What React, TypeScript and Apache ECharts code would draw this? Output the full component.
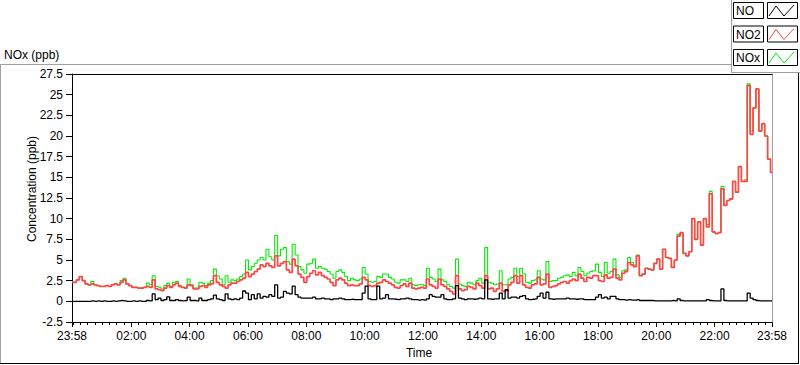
import React, { useEffect, useRef } from "react";
import * as echarts from "echarts";

// Time axis: minutes relative to midnight; samples every 6 min starting 23:58 (previous day)
const START_MIN = -2;
const STEP_MIN = 6;
const END_MIN = 1438;

const MAJOR_TICKS = [-2, 120, 240, 360, 480, 600, 720, 840, 960, 1080, 1200, 1320, 1438];

const Y_MIN = -2.5;
const Y_MAX = 27.5;
const Y_STEP = 2.5;

// NO2 (ppb)
const NO2 = [
  2.3, 2.3, 2.6, 3.0, 2.5, 2.1, 2.0, 2.1, 2.0, 1.9,
  1.8, 1.8, 1.9, 1.8, 2.0, 2.1, 2.0, 2.3, 2.6, 2.1,
  1.9, 1.7, 1.7, 1.6, 1.6, 1.7, 1.8, 1.7, 2.6, 1.5,
  1.4, 1.3, 1.6, 1.9, 1.7, 2.0, 2.2, 1.8, 1.7, 1.6,
  2.0, 1.9, 1.5, 1.5, 1.8, 1.9, 1.7, 2.0, 2.1, 3.1,
  2.3, 2.0, 1.8, 1.6, 2.0, 2.2, 2.2, 2.4, 2.6, 2.8,
  3.5, 3.0, 3.3, 3.6, 3.9, 4.4, 4.2, 4.6, 4.3, 4.1,
  5.5, 4.3, 4.6, 4.8, 3.8, 3.5, 5.1, 4.3, 3.3, 2.9,
  2.3, 3.0, 3.4, 3.7, 3.2, 3.5, 3.1, 2.9, 2.7, 2.3,
  1.9, 2.6, 2.8, 2.6, 2.2, 1.9, 2.0, 1.9, 1.9, 2.1,
  2.9, 2.6, 1.9, 1.8, 1.9, 2.2, 2.3, 2.6, 2.4, 2.2,
  2.0, 1.7, 1.6, 1.9, 2.1, 1.8, 2.2, 1.6, 1.5, 1.6,
  1.7, 1.6, 2.7, 2.0, 1.8, 1.6, 2.7, 2.0, 1.8, 1.5,
  1.2, 0.9, 3.1, 1.5, 1.3, 1.4, 1.8, 1.7, 1.5, 2.2,
  1.9, 1.6, 3.1, 1.5, 1.6, 1.2, 1.5, 2.2, 1.2, 1.3,
  2.0, 2.3, 3.1, 2.2, 3.1, 2.0, 1.7, 1.6, 2.0, 2.1,
  2.9, 2.0, 2.1, 3.3, 1.7, 1.8, 1.9, 2.1, 2.3, 2.4,
  2.2, 2.5, 2.7, 2.5, 3.3, 2.8, 2.4, 2.9, 2.8, 3.1,
  3.1, 2.5, 2.4, 3.2, 2.8, 2.9, 3.9, 2.8, 2.6, 3.4,
  3.6, 4.7, 4.4, 4.2, 5.5, 3.1, 3.3, 4.0, 3.9, 3.8,
  4.6, 5.1, 3.9, 6.3, 5.3, 5.2, 4.1, 5.0, 7.9, 8.3,
  5.8, 5.5, 6.0, 10.0, 7.5, 9.6, 6.8, 10.0, 9.0, 13.0,
  8.4, 8.2, 8.3, 13.6, 11.6, 12.2, 12.4, 14.5, 13.2, 16.3,
  14.5, 14.5, 26.1, 20.2, 23.4, 25.7, 20.6, 21.5, 20.0, 17.2,
  15.6,
];

// NOx (ppb)
const NOX = [
  2.3, 2.3, 2.6, 3.0, 2.5, 2.1, 2.0, 2.4, 2.0, 1.9,
  1.8, 1.8, 1.9, 1.8, 2.0, 2.1, 2.0, 2.5, 2.8, 2.1,
  1.9, 1.7, 1.7, 1.6, 1.6, 1.7, 2.2, 2.0, 3.1, 1.8,
  1.7, 1.5, 1.9, 2.2, 1.8, 2.3, 2.4, 1.9, 1.7, 1.7,
  2.7, 2.0, 1.6, 1.6, 2.3, 2.2, 1.9, 2.2, 2.5, 3.9,
  3.1, 2.7, 2.0, 3.1, 2.3, 2.6, 2.5, 2.7, 3.0, 3.3,
  5.0, 3.8, 4.2, 4.6, 5.0, 5.3, 5.0, 6.3, 5.4, 5.0,
  8.0, 5.5, 6.3, 6.5, 4.8, 4.5, 6.9, 5.6, 4.2, 3.8,
  3.4, 4.5, 4.6, 5.1, 4.0, 4.2, 4.0, 3.9, 3.6, 3.3,
  2.8, 3.6, 3.8, 3.5, 3.0, 2.5, 2.8, 2.6, 2.5, 2.7,
  4.1, 3.3, 2.4, 2.3, 2.4, 3.0, 2.9, 3.3, 3.3, 2.9,
  2.7, 2.3, 2.2, 2.6, 2.6, 2.4, 2.8, 2.0, 1.9, 2.0,
  2.0, 1.9, 4.0, 2.9, 2.7, 2.4, 3.9, 2.6, 2.4, 2.0,
  1.8, 1.6, 5.1, 2.1, 1.9, 1.8, 2.3, 2.2, 2.0, 2.5,
  2.8, 2.2, 6.5, 2.3, 2.2, 2.0, 2.1, 3.7, 2.0, 2.0,
  2.7, 2.9, 4.0, 3.0, 4.0, 3.3, 2.3, 2.2, 2.5, 2.6,
  3.7, 2.7, 2.6, 4.8, 2.4, 2.5, 2.5, 2.8, 2.9, 3.1,
  3.2, 3.0, 3.5, 3.1, 4.1, 3.6, 3.1, 3.4, 3.6, 3.7,
  4.5, 3.5, 3.0, 4.7, 3.4, 3.6, 5.1, 3.2, 2.9, 3.7,
  3.8, 5.3, 4.7, 4.4, 5.6, 3.1, 3.3, 4.0, 3.9, 3.8,
  4.6, 5.1, 3.9, 6.3, 5.3, 5.2, 4.1, 5.0, 8.1, 8.3,
  5.8, 5.5, 6.0, 10.0, 7.5, 9.6, 6.8, 10.0, 9.3, 13.3,
  8.4, 8.2, 8.3, 13.9, 11.6, 12.2, 12.4, 14.5, 13.2, 16.3,
  14.5, 14.7, 26.3, 20.6, 23.4, 25.7, 20.6, 21.5, 20.0, 17.2,
  15.6,
];

// NO (ppb)
const NO = [
  0.0, 0.0, 0.0, 0.0, 0.0, 0.0, 0.0, 0.05, 0.0, 0.05,
  0.0, 0.05, 0.0, 0.0, 0.05, 0.0, 0.05, 0.1, 0.05, 0.0,
  0.0, 0.05, 0.0, 0.05, 0.0, 0.0, 0.1, 0.05, 0.9, 0.2,
  0.4, 0.1, 0.2, 0.55, 0.1, 0.1, 0.2, 0.1, 0.05, 0.1,
  0.5, 0.1, 0.1, 0.05, 0.4, 0.1, 0.1, 0.2, 0.3, 0.75,
  0.3, 0.2, 0.1, 0.9, 0.3, 0.2, 0.3, 0.2, 0.4, 1.25,
  1.0, 0.2, 0.8, 0.3, 0.9, 0.4, 0.6, 0.5, 0.8, 0.6,
  2.0, 0.4, 0.5, 1.2, 1.0, 0.9, 1.85, 0.8, 0.5, 0.4,
  0.4, 0.4, 0.4, 0.5, 0.3, 0.3, 0.4, 0.3, 0.3, 0.2,
  0.3, 0.3, 0.4, 0.3, 0.2, 0.2, 0.25, 0.2, 0.2, 0.2,
  1.0, 1.85, 0.3, 0.2, 0.2, 1.85, 0.3, 0.4, 0.8, 0.3,
  0.3, 0.25, 0.2, 0.3, 0.3, 0.4, 0.3, 0.2, 0.2, 0.15,
  0.2, 0.15, 0.3, 0.8, 0.6, 0.5, 0.5, 0.8, 0.3, 0.2,
  0.2, 0.3, 1.9, 0.4, 0.3, 0.2, 0.3, 0.3, 0.25, 0.3,
  0.4, 0.3, 2.6, 0.3, 0.25, 0.3, 0.3, 1.0, 0.3, 1.4,
  0.4, 0.5, 0.5, 0.4, 0.6, 0.7, 0.3, 0.2, 0.25, 0.3,
  0.6, 1.0, 0.4, 1.1, 0.3, 0.25, 0.3, 0.3, 0.3, 0.3,
  0.4, 0.3, 0.3, 0.25, 0.3, 0.3, 0.2, 0.2, 0.2, 0.2,
  0.5, 0.8, 0.4, 0.5, 0.3, 0.6, 0.6, 0.3, 0.2, 0.2,
  0.15, 0.2, 0.15, 0.15, 0.2, 0.1, 0.1, 0.1, 0.1, 0.1,
  0.05, 0.05, 0.05, 0.05, 0.05, 0.05, 0.1, 0.05, 0.3, 0.1,
  0.05, 0.05, 0.05, 0.05, 0.05, 0.05, 0.05, 0.05, 0.2, 0.1,
  0.05, 0.05, 0.05, 1.5, 0.1, 0.05, 0.05, 0.05, 0.05, 0.05,
  0.05, 0.05, 1.0, 0.4, 0.2, 0.1, 0.05, 0.05, 0.05, 0.05,
  0.05,
];

const LEGEND_NAMES = ["NO", "NO2", "NOx"];
const COLORS: Record<string, string> = { NO: "#000000", NO2: "#ff4646", NOx: "#00ee00" };

const FONT = "'Liberation Sans', Arial, sans-serif";

function pad(n: number) {
  return n < 10 ? "0" + n : String(n);
}
function fmtTime(v: number) {
  if (v <= START_MIN || v >= END_MIN) return "23:58";
  const h = Math.floor(v / 60);
  const m = Math.round(v - h * 60);
  return pad(h) + ":" + pad(m);
}

function toPairs(arr: number[]) {
  return arr.map((v, i) => [START_MIN + STEP_MIN * i, v]);
}

export default function App() {
  const ref = useRef<HTMLDivElement>(null);

  useEffect(() => {
    if (!ref.current) return;
    const chart = echarts.init(ref.current, undefined, { renderer: "svg" });

    const minorTicks: number[] = [];
    for (let m = 0; m < END_MIN; m += 15) {
      if (m % 120 !== 0 || m === 0) minorTicks.push(m);
    }

    const legendGraphics: any[] = [];
    LEGEND_NAMES.forEach((name, k) => {
      const y0 = 2 + k * 23.5;
      legendGraphics.push(
        {
          type: "rect",
          shape: { x: 733.5, y: y0 + 0.5, width: 30, height: 16 },
          style: { fill: "#ffffff", stroke: "#000000", lineWidth: 1 },
          silent: true,
        },
        {
          type: "text",
          x: 736,
          y: y0 + 9,
          style: {
            text: name,
            fill: "#000000",
            fontSize: 12,
            fontFamily: FONT,
            verticalAlign: "middle",
            align: "left",
          },
          silent: true,
        },
        {
          type: "rect",
          shape: { x: 767.5, y: y0 + 0.5, width: 30, height: 16 },
          style: { fill: "#ffffff", stroke: "#000000", lineWidth: 1 },
          silent: true,
        },
        {
          type: "polyline",
          shape: {
            points: [
              [769, y0 + 14],
              [776, y0 + 4],
              [784, y0 + 14],
              [794, y0 + 3],
            ],
          },
          style: { stroke: COLORS[name], lineWidth: 1, fill: "none" },
          silent: true,
        }
      );
    });

    const option: any = {
      animation: false,
      backgroundColor: "#ffffff",
      grid: { left: 72, right: 28, top: 74, bottom: 43, containLabel: false },
      xAxis: [
        {
          type: "value",
          min: START_MIN,
          max: END_MIN,
          position: "bottom",
          axisLine: { show: true, onZero: false, lineStyle: { color: "#000000", width: 1 } },
          axisTick: { show: true, customValues: MAJOR_TICKS, length: 5, lineStyle: { color: "#000000" } },
          axisLabel: {
            customValues: MAJOR_TICKS,
            formatter: (v: number) => fmtTime(v),
            margin: 8,
            color: "#000000",
            fontSize: 12,
            fontFamily: FONT,
            showMinLabel: true,
            showMaxLabel: true,
          },
          splitLine: { show: false },
        },
        {
          type: "value",
          min: START_MIN,
          max: END_MIN,
          position: "bottom",
          axisLine: { show: false, onZero: false },
          axisTick: { show: true, customValues: minorTicks, length: 3, lineStyle: { color: "#000000" } },
          axisLabel: { show: false },
          splitLine: { show: false },
        },
        {
          type: "value",
          min: START_MIN,
          max: END_MIN,
          position: "top",
          axisLine: { show: true, onZero: false, lineStyle: { color: "#000000", width: 1 } },
          axisTick: { show: false },
          axisLabel: { show: false },
          splitLine: { show: false },
        },
      ],
      yAxis: [
        {
          type: "value",
          min: Y_MIN,
          max: Y_MAX,
          interval: Y_STEP,
          position: "left",
          axisLine: { show: true, onZero: false, lineStyle: { color: "#000000", width: 1 } },
          axisTick: { show: true, length: 6, lineStyle: { color: "#000000" } },
          axisLabel: { margin: 9, color: "#000000", fontSize: 12, fontFamily: FONT },
          splitLine: { show: false },
        },
        {
          type: "value",
          min: Y_MIN,
          max: Y_MAX,
          interval: Y_STEP,
          position: "right",
          axisLine: { show: true, onZero: false, lineStyle: { color: "#a0a0a0", width: 1 } },
          axisTick: { show: false },
          axisLabel: { show: false },
          splitLine: { show: false },
        },
      ],
      series: [
        {
          name: "NOx",
          type: "line",
          data: toPairs(NOX),
          step: "middle",
          showSymbol: false,
          lineStyle: { color: COLORS.NOx, width: 1.1 },
          itemStyle: { color: COLORS.NOx },
          silent: true,
        },
        {
          name: "NO2",
          type: "line",
          data: toPairs(NO2),
          step: "middle",
          showSymbol: false,
          lineStyle: { color: COLORS.NO2, width: 1.7 },
          itemStyle: { color: COLORS.NO2 },
          silent: true,
        },
        {
          name: "NO",
          type: "line",
          data: toPairs(NO),
          step: "middle",
          showSymbol: false,
          lineStyle: { color: COLORS.NO, width: 1.3 },
          itemStyle: { color: COLORS.NO },
          silent: true,
        },
      ],
      graphic: [
        { type: "line", shape: { x1: 0, y1: 64.5, x2: 731, y2: 64.5 }, style: { stroke: "#a0a0a0", lineWidth: 1 }, silent: true },
        { type: "line", shape: { x1: 0.5, y1: 64, x2: 0.5, y2: 364 }, style: { stroke: "#a0a0a0", lineWidth: 1 }, silent: true },
        { type: "line", shape: { x1: 0, y1: 363.5, x2: 799, y2: 363.5 }, style: { stroke: "#000000", lineWidth: 1 }, silent: true },
        { type: "line", shape: { x1: 798.5, y1: 72, x2: 798.5, y2: 364 }, style: { stroke: "#000000", lineWidth: 1 }, silent: true },
        { type: "line", shape: { x1: 731.5, y1: 0, x2: 731.5, y2: 73 }, style: { stroke: "#a0a0a0", lineWidth: 1 }, silent: true },
        { type: "line", shape: { x1: 731, y1: 72.5, x2: 800, y2: 72.5 }, style: { stroke: "#a0a0a0", lineWidth: 1 }, silent: true },
        {
          type: "text",
          x: 4,
          y: 55,
          style: { text: "NOx (ppb)", fill: "#000000", fontSize: 12, fontFamily: FONT, verticalAlign: "middle", align: "left" },
          silent: true,
        },
        {
          type: "text",
          x: 32,
          y: 189,
          rotation: Math.PI / 2,
          style: { text: "Concentration (ppb)", fill: "#000000", fontSize: 12, fontFamily: FONT, verticalAlign: "middle", align: "center" },
          silent: true,
        },
        {
          type: "text",
          x: 419,
          y: 353,
          style: { text: "Time", fill: "#000000", fontSize: 12, fontFamily: FONT, verticalAlign: "middle", align: "center" },
          silent: true,
        },
        ...legendGraphics,
      ],
    };

    chart.setOption(option);
    return () => {
      chart.dispose();
    };
  }, []);

  return (
    <div
      ref={ref}
      style={{ position: "fixed", left: 0, top: 0, width: 800, height: 365, background: "#ffffff" }}
    />
  );
}
